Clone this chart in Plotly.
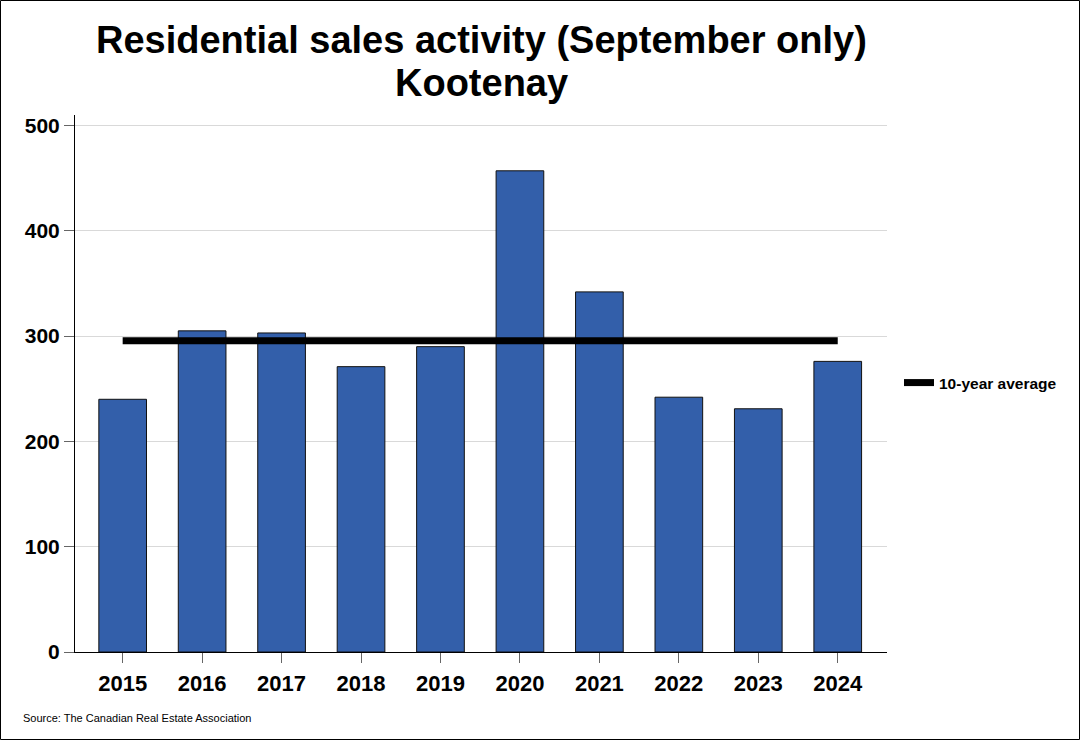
import plotly.graph_objects as go

years = ["2015", "2016", "2017", "2018", "2019", "2020", "2021", "2022", "2023", "2024"]
sales = [240, 305, 303, 271, 290, 457, 342, 242, 231, 276]
avg_label = "10-year average"
avg_value = sum(sales) / len(sales)
title_lines = ["Residential sales activity (September only)", "Kootenay"]

W, H = 1080, 740
L, R, T, B = 75, 193, 115, 88
pw, ph = W - L - R, H - T - B

FONT = "Arial, Liberation Sans, sans-serif"


def py(pix_y):
    return (H - B - pix_y) / ph


def px(pix_x):
    return (pix_x - L) / pw


fig = go.Figure()
fig.add_trace(go.Bar(
    x=years, y=sales, width=0.6,
    marker=dict(color="#335FAA", line=dict(color="#111111", width=1)),
    showlegend=False, hoverinfo="x+y",
))
fig.add_trace(go.Scatter(
    x=[years[0], years[-1]], y=[avg_value, avg_value],
    mode="lines", line=dict(color="black", width=7),
    name=avg_label,
))

fig.update_layout(
    width=W, height=H,
    margin=dict(l=L, r=R, t=T, b=B),
    paper_bgcolor="white", plot_bgcolor="white",
    font=dict(family=FONT, color="black"),
    xaxis=dict(
        type="category", range=[-0.6, 9.62],
        showline=True, linecolor="black", linewidth=1,
        ticks="outside", ticklen=10, tickcolor="#666666",
        tickfont=dict(size=22, family=FONT, color="black", weight="bold"),
        showgrid=False, ticklabelstandoff=2,
    ),
    yaxis=dict(
        range=[0, 510], dtick=100,
        showline=True, linecolor="black", linewidth=1,
        ticks="outside", ticklen=10, tickcolor="#666666",
        tickfont=dict(size=21, family=FONT, color="black", weight="bold"),
        showgrid=True, gridcolor="#d9d9d9", gridwidth=1,
        zeroline=False,
    ),
    legend=dict(
        x=px(899), y=py(383), xanchor="left", yanchor="middle",
        font=dict(size=15.5, family=FONT, color="black", weight="bold"),
        itemwidth=30, bgcolor="rgba(0,0,0,0)",
    ),
    showlegend=True,
    bargap=0.4,
)

for txt, yy in zip(title_lines, [40, 83]):
    fig.add_annotation(
        text="<b>" + txt + "</b>",
        xref="paper", yref="paper", x=0.5, y=py(yy),
        xanchor="center", yanchor="middle", showarrow=False,
        font=dict(size=38, family=FONT, color="black"),
    )

fig.add_annotation(
    text="Source: The Canadian Real Estate Association",
    xref="paper", yref="paper",
    x=px(21), y=py(718),
    xanchor="left", yanchor="middle", showarrow=False,
    font=dict(size=11, family=FONT, color="black"),
)

fig.add_shape(
    type="rect", xref="paper", yref="paper",
    x0=px(0.5), x1=px(W - 0.5),
    y0=py(H - 0.5), y1=py(0.5),
    line=dict(color="black", width=1), fillcolor="rgba(0,0,0,0)",
    layer="above",
)

fig.write_html("out.html", config={"displayModeBar": False},
               post_script="document.body.style.margin='0';")
